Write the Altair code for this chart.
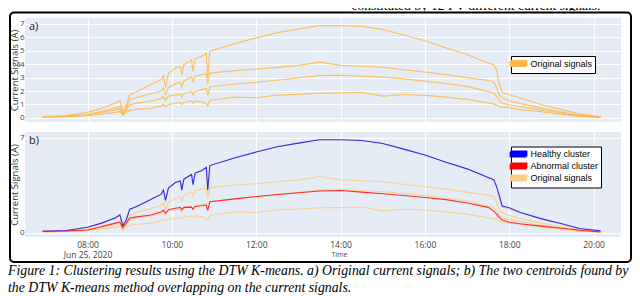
import altair as alt
import pandas as pd

# ---------------- data ----------------
times = ["06:56", "07:30", "08:00", "08:20", "08:40", "08:46", "08:50", "08:55", "09:00", "09:10",
         "09:30", "09:45", "09:48", "09:51", "09:55", "10:05", "10:12", "10:14", "10:17", "10:28",
         "10:30", "10:33", "10:42", "10:49", "10:51", "10:54", "11:30", "12:00", "12:30", "13:00",
         "13:30", "14:00", "14:30", "15:00", "15:30", "16:00", "16:30", "17:00", "17:30", "17:38",
         "17:42", "17:46", "17:50", "18:00", "18:15", "18:45", "19:15", "19:40", "20:10"]

signal_top = [0.10, 0.18, 0.42, 0.72, 1.12, 1.30, 0.50, 0.95, 1.70, 1.95,
              2.48, 2.85, 3.15, 2.25, 3.30, 3.70, 3.82, 3.20, 3.95, 4.30,
              3.45, 4.40, 4.57, 4.82, 3.00, 4.95, 5.52, 5.95, 6.33, 6.60,
              6.85, 6.85, 6.80, 6.58, 6.16, 5.73, 5.20, 4.71, 4.07, 3.95,
              3.57, 2.50, 1.90, 1.72, 1.50, 1.00, 0.62, 0.28, 0.10]
signal_2 = [0.08, 0.12, 0.25, 0.50, 0.75, 0.85, 0.32, 0.70, 1.35, 1.52,
            1.80, 2.00, 2.20, 1.75, 2.25, 2.55, 2.65, 2.30, 2.75, 3.05,
            2.70, 3.10, 3.20, 3.28, 2.55, 3.33, 3.52, 3.62, 3.76, 3.90,
            4.15, 3.90, 3.84, 3.76, 3.58, 3.40, 3.22, 3.00, 2.78, 2.68,
            2.25, 1.70, 1.50, 1.28, 1.08, 0.73, 0.43, 0.18, 0.07]
signal_3 = [0.08, 0.12, 0.22, 0.42, 0.60, 0.68, 0.28, 0.55, 0.98, 1.10,
            1.25, 1.45, 1.60, 1.30, 1.62, 1.72, 1.75, 1.55, 1.82, 1.95,
            1.70, 1.98, 2.10, 2.18, 1.65, 2.30, 2.52, 2.65, 2.80, 2.98,
            3.15, 3.18, 3.10, 3.03, 2.90, 2.74, 2.55, 2.35, 1.95, 1.85,
            1.60, 1.30, 1.10, 0.98, 0.85, 0.58, 0.35, 0.18, 0.06]
signal_4 = [0.06, 0.10, 0.18, 0.30, 0.42, 0.48, 0.22, 0.40, 0.58, 0.64,
            0.72, 0.90, 1.02, 0.85, 1.00, 1.08, 1.15, 1.00, 1.15, 1.26,
            1.10, 1.25, 1.20, 1.05, 0.92, 1.30, 1.55, 1.50, 1.70, 1.75,
            1.85, 1.86, 1.90, 1.62, 1.74, 1.68, 1.55, 1.38, 1.12, 1.05,
            0.95, 0.85, 0.80, 0.76, 0.62, 0.46, 0.26, 0.12, 0.05]
healthy = [0.12, 0.18, 0.42, 0.72, 1.12, 1.33, 0.55, 0.95, 1.75, 1.95,
           2.45, 2.85, 3.15, 2.40, 3.30, 3.70, 3.82, 3.15, 3.95, 4.30,
           3.55, 4.40, 4.57, 4.82, 3.15, 4.95, 5.52, 5.95, 6.33, 6.60,
           6.85, 6.85, 6.80, 6.58, 6.16, 5.73, 5.20, 4.71, 4.07, 3.90,
           3.40, 2.70, 1.98, 1.85, 1.52, 1.05, 0.68, 0.32, 0.15]
abnormal = [0.12, 0.14, 0.22, 0.45, 0.72, 0.78, 0.42, 0.70, 1.10, 1.18,
            1.32, 1.55, 1.68, 1.45, 1.70, 1.82, 1.88, 1.70, 1.88, 1.90,
            1.75, 1.95, 2.00, 2.05, 1.65, 2.30, 2.50, 2.68, 2.82, 2.95,
            3.08, 3.12, 3.00, 2.88, 2.75, 2.60, 2.45, 2.20, 1.88, 1.60,
            1.38, 1.12, 0.95, 0.78, 0.68, 0.50, 0.34, 0.20, 0.07]

x_tick_hours = [8, 10, 12, 14, 16, 18, 20]
y_ticks = [0, 1, 2, 3, 4, 5, 6, 7]
cats_a = ["Original signals"]
cats_b = ["Healthy cluster", "Abnormal cluster", "Original signals"]

top_text = "constituted by 12 PV different current signals."
caption1 = ("Figure 1: Clustering results using the DTW K-means. a) Original current signals; "
            "b) The two centroids found by")
caption2 = "the DTW K-means method overlapping on the current signals."

# ---------------- tables ----------------
DAY = "2020-06-25T"
orig_rows = []
for name, vals in [("s1", signal_top), ("s2", signal_2), ("s3", signal_3), ("s4", signal_4)]:
    for t, v in zip(times, vals):
        orig_rows.append({"t": DAY + t + ":00", "v": v, "sig": name, "cat": "Original signals"})
df_orig = pd.DataFrame(orig_rows)

cent_rows = []
for name, vals in [("Healthy cluster", healthy), ("Abnormal cluster", abnormal)]:
    for t, v in zip(times, vals):
        cent_rows.append({"t": DAY + t + ":00", "v": v, "sig": name, "cat": name})
df_cent = pd.DataFrame(cent_rows)

one = pd.DataFrame({"k": [0]})

# ---------------- styling ----------------
BG = "#E5ECF6"
ORANGE_A = "#FDB84C"
ORANGE_B = "#F9CD8A"
FONT = "Open Sans"
W, H = 596, 104
# legend swatch: a zig-zag of strokes that reads as a 16x7 filled bar
SWATCH = "M-2,-0.66H2V-0.33H-2V0H2V0.33H-2V0.66H2"

x_dom = [alt.DateTime(year=2020, month=6, date=25, hours=6, minutes=31),
         alt.DateTime(year=2020, month=6, date=25, hours=20, minutes=39)]
tick_vals = [alt.DateTime(year=2020, month=6, date=25, hours=h) for h in x_tick_hours]
y_scale = alt.Scale(domain=[-0.3, 7.42], nice=False, zero=False)
range_b = ["#0000FF", "#FF0000", ORANGE_B]
color_a = alt.Scale(domain=cats_a, range=[ORANGE_A])
color_b = alt.Scale(domain=cats_b, range=range_b)


def y_axis():
    return alt.Axis(values=y_ticks, ticks=False, domain=False, grid=True, gridColor="white",
                    gridWidth=1, labelFont=FONT, labelFontSize=8, labelColor="#444",
                    labelPadding=1, title="Current Signals (A)", titleFont=FONT,
                    titleFontSize=9.5, titleFontWeight="normal", titleColor="#333", titleX=-5.5)


x_axis_a = alt.Axis(values=tick_vals, labels=False, ticks=False, domain=False, grid=True,
                    gridColor="white", gridWidth=1, title=None)
x_axis_b = alt.Axis(values=tick_vals, ticks=False, domain=False, grid=True, gridColor="white",
                    gridWidth=1, labelFont=FONT, labelFontSize=8.5, labelColor="#444",
                    labelPadding=3, labelLineHeight=10,
                    labelExpr="hours(datum.value) == 8 ? ['08:00', 'Jun 25, 2020'] : timeFormat(datum.value, '%H:%M')",
                    title="Time", titleFont=FONT, titleFontSize=7, titleFontWeight="normal",
                    titleColor="#444", titleX=314, titleY=17, titleBaseline="middle")


def legend(y, row_pad):
    return alt.Legend(orient="none", legendX=486, legendY=y, title=None, symbolType=SWATCH,
                      symbolSize=64, symbolOpacity=1, symbolStrokeWidth=1.8,
                      labelFont="Liberation Sans", labelFontSize=9, labelColor="black",
                      labelOffset=7, strokeColor="black", fillColor="white", padding=2.5,
                      rowPadding=row_pad, cornerRadius=0)


# ---------------- panel a ----------------
lines_a = alt.Chart(df_orig).mark_line(strokeWidth=1.2, opacity=0.85, clip=True).encode(
    x=alt.X("t:T", scale=alt.Scale(domain=x_dom), axis=x_axis_a),
    y=alt.Y("v:Q", scale=y_scale, axis=y_axis()),
    color=alt.Color("cat:N", scale=color_a, legend=legend(38, 1)),
    detail="sig:N",
)
label_a = alt.Chart(one).mark_text(text="a)", font=FONT, fontSize=11, align="left",
                                   baseline="middle", color="#222").encode(
    x=alt.value(4), y=alt.value(9))
frame = alt.Chart(one).mark_rect(fill="transparent", stroke="black", strokeWidth=2,
                                 cornerRadius=4).encode(
    x=alt.value(-15), x2=alt.value(606), y=alt.value(-5.5), y2=alt.value(244))
panel_a = alt.layer(lines_a, label_a, frame).properties(
    width=W, height=H, view=alt.ViewBackground(fill=BG, strokeWidth=0))

# ---------------- panel b ----------------
lines_b = alt.Chart(df_orig).mark_line(strokeWidth=1.1, opacity=0.9, clip=True).encode(
    x=alt.X("t:T", scale=alt.Scale(domain=x_dom), axis=x_axis_b),
    y=alt.Y("v:Q", scale=y_scale, axis=y_axis()),
    color=alt.Color("cat:N", scale=color_b, legend=legend(14.5, -2)),
    detail="sig:N",
)
cent_b = alt.Chart(df_cent).mark_line(strokeWidth=1.1, opacity=0.8, clip=True).encode(
    x="t:T",
    y="v:Q",
    stroke=alt.Stroke("cat:N", scale=alt.Scale(domain=cats_b, range=range_b), legend=None),
    detail="sig:N",
)
label_b = alt.Chart(one).mark_text(text="b)", font=FONT, fontSize=11, align="left",
                                   baseline="middle", color="#222").encode(
    x=alt.value(4), y=alt.value(9))
cap_1 = alt.Chart(one).mark_text(text=caption1, font="Liberation Serif", fontStyle="italic",
                                 fontSize=13.8, align="left", baseline="middle",
                                 color="black").encode(
    x=alt.value(-17), y=alt.value(139))
cap_2 = alt.Chart(one).mark_text(text=caption2, font="Liberation Serif", fontStyle="italic",
                                 fontSize=13.8, align="left", baseline="middle",
                                 color="black").encode(
    x=alt.value(-17), y=alt.value(155.5))
panel_b = alt.layer(lines_b, cent_b, label_b, cap_1, cap_2).properties(
    width=W, height=H + 1, view=alt.ViewBackground(fill=BG, strokeWidth=0))

# ---------------- top clipped text ----------------
top = alt.Chart(one).mark_text(text=top_text, font="Liberation Serif", fontSize=13.5,
                               align="center", baseline="alphabetic", color="black",
                               clip=True).encode(
    x=alt.value(451), y=alt.value(1.5)).properties(
    width=W, height=3, view=alt.ViewBackground(fill="white", strokeWidth=0))

panels = alt.vconcat(panel_a, panel_b, spacing=10, bounds="flush").resolve_scale(
    color="independent", stroke="independent").resolve_legend(color="independent")

chart = alt.vconcat(top, panels, spacing=7, bounds="flush").properties(
    padding=0, background="white"
).configure_view(strokeWidth=0)

chart.save("out.html", embed_options={"renderer": "svg", "actions": False})
